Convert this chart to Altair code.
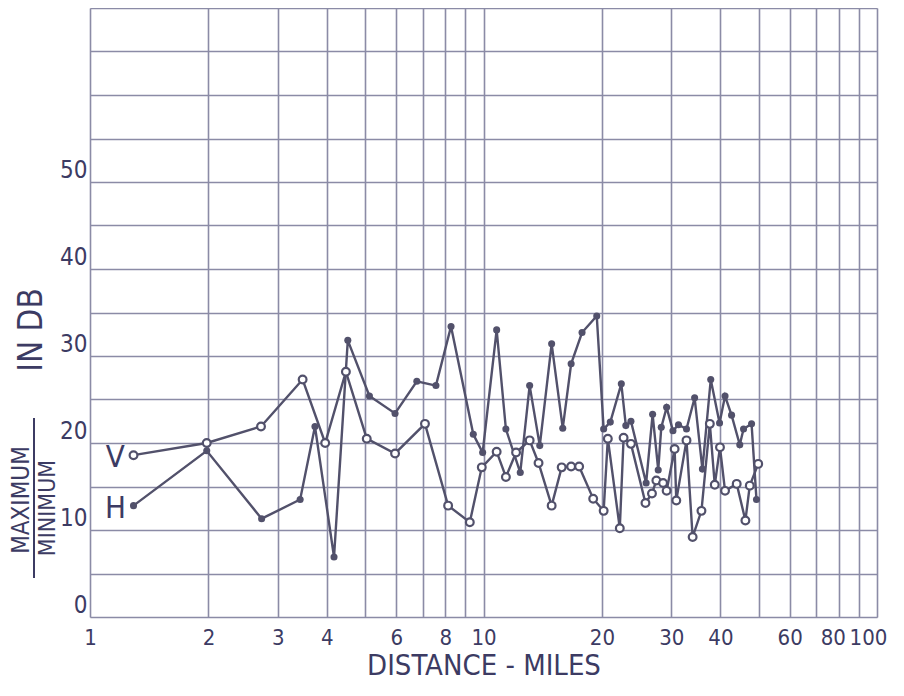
import altair as alt
import pandas as pd

# H series (filled dots)
h_dist = [1.29, 1.98, 2.73, 3.42, 3.73, 4.17, 4.52, 5.13, 5.96, 6.77, 7.57, 8.27, 9.42, 9.95,
          10.8, 11.4, 12.4, 13.1, 13.9, 14.9, 15.9, 16.7, 17.8, 19.4, 20.2, 21.0, 22.4, 23.0,
          23.7, 25.9, 26.9, 27.8, 28.3, 29.2, 30.3, 31.3, 32.8, 34.4, 36.0, 37.8, 39.8, 41.1,
          42.7, 44.8, 45.8, 48.0, 49.4]
h_db = [12.8, 19.1, 11.3, 13.5, 21.9, 6.9, 31.8, 25.4, 23.4, 27.1, 26.6, 33.4, 21.0, 18.9,
        33.0, 21.6, 16.6, 26.6, 19.7, 31.4, 21.7, 29.1, 32.7, 34.6, 21.6, 22.4, 26.8, 22.0,
        22.5, 15.4, 23.3, 16.9, 21.8, 24.1, 21.4, 22.1, 21.6, 25.2, 17.0, 27.3, 22.3, 25.4,
        23.2, 19.8, 21.6, 22.2, 13.5]

# V series (open circles)
v_dist = [1.29, 1.98, 2.72, 3.47, 3.96, 4.47, 5.05, 5.96, 7.1, 8.13, 9.23, 9.9, 10.8, 11.4,
          12.1, 13.1, 13.8, 14.9, 15.8, 16.7, 17.5, 19.0, 20.2, 20.7, 22.2, 22.7, 23.7, 25.8,
          26.8, 27.5, 28.6, 29.2, 30.6, 30.9, 32.8, 34.0, 35.8, 37.6, 38.7, 39.9, 41.1, 44.0,
          46.3, 47.5, 49.9]
v_db = [18.6, 20.0, 21.9, 27.3, 20.0, 28.2, 20.5, 18.8, 22.2, 12.8, 10.9, 17.2, 19.0, 16.1,
        18.9, 20.3, 17.7, 12.8, 17.2, 17.3, 17.3, 13.6, 12.2, 20.5, 10.2, 20.6, 19.9, 13.1,
        14.2, 15.7, 15.4, 14.5, 19.3, 13.4, 20.3, 9.2, 12.2, 22.2, 15.2, 19.5, 14.5, 15.3,
        11.1, 15.1, 17.6]

x_grid = [1, 2, 3, 4, 5, 6, 7, 8, 9, 10, 20, 30, 40, 50, 60, 70, 80, 90, 100]
x_hidden = [5, 7, 9, 50, 70, 90]
y_grid = [0, 5, 10, 15, 20, 25, 30, 35, 40, 45, 50, 55, 60, 65, 70]

GRID = "#8b8ba6"
INK = "#52516b"
TXT = "#3c3b63"
FONT = "DejaVu Sans"
NARROW = "DejaVu Sans Condensed, Liberation Sans Narrow, DejaVu Sans"

df = pd.concat([
    pd.DataFrame({"dist": h_dist, "db": h_db, "series": "H", "order": range(len(h_dist))}),
    pd.DataFrame({"dist": v_dist, "db": v_db, "series": "V", "order": range(len(v_dist))}),
])

xs = alt.X("dist:Q", scale=alt.Scale(type="log", domain=[1, 100]),
           axis=alt.Axis(values=x_grid, format="d", title="DISTANCE - MILES",
                         labelExpr="indexof(" + str(x_hidden) + ", datum.value) >= 0 ? '' : datum.label",
                         labelOffset={"condition": [
                             {"test": "datum.value == 100", "value": -9},
                             {"test": "datum.value == 80", "value": -6}],
                                      "value": 0},
                         grid=True, gridColor=GRID, gridWidth=1.6, gridOpacity=1,
                         domain=False, ticks=False, labelPadding=10, labelFontSize=22,
                         labelColor=TXT, labelFont=NARROW, titleFont=NARROW, titleFontSize=29,
                         titleFontWeight="normal", titleColor=TXT, titlePadding=3,
                         labelFlush=False, labelOverlap=False))
ys = alt.Y("db:Q", scale=alt.Scale(domain=[0, 70], nice=False),
           axis=alt.Axis(values=y_grid, title=None,
                         labelExpr="(datum.value % 10 == 0 && datum.value <= 50) ? datum.label : ''",
                         grid=True, gridColor=GRID, gridWidth=1.6, gridOpacity=1,
                         domain=False, ticks=False, labelPadding=3, labelFontSize=24,
                         labelColor=TXT, labelFont=NARROW, labelBaseline="bottom",
                         labelOverlap=False, labelFlush=False))

base = alt.Chart(df)
lines = base.mark_line(color=INK, strokeWidth=2.4).encode(
    x=xs, y=ys, detail="series:N", order="order:Q")
h_pts = base.transform_filter("datum.series == 'H'").mark_point(
    filled=True, color=INK, size=50, opacity=1).encode(x="dist:Q", y="db:Q")
v_pts = base.transform_filter("datum.series == 'V'").mark_point(
    filled=True, fill="white", stroke=INK, strokeWidth=2.2, size=60, opacity=1).encode(x="dist:Q", y="db:Q")

labels = pd.DataFrame({"t": ["V", "H"], "x": [1.16, 1.16], "y": [18.6, 12.8]})
lab = alt.Chart(labels).mark_text(font=NARROW, fontSize=31, color=TXT, dy=3).encode(
    x="x:Q", y="y:Q", text="t:N")

t_indb = alt.Chart(pd.DataFrame({"t": ["IN  DB"]})).mark_text(
    font=NARROW, fontSize=33, color=TXT, angle=270).encode(
    x=alt.value(-58), y=alt.value(322), text="t:N")
t_max = alt.Chart(pd.DataFrame({"t": ["MAXIMUM"]})).mark_text(
    font=NARROW, fontSize=24, color=TXT, angle=270).encode(
    x=alt.value(-68), y=alt.value(492), text="t:N")
t_min = alt.Chart(pd.DataFrame({"t": ["MINIMUM"]})).mark_text(
    font=NARROW, fontSize=23, color=TXT, angle=270).encode(
    x=alt.value(-42), y=alt.value(500), text="t:N")
frac = alt.Chart(pd.DataFrame({"a": [0]})).mark_rule(color=TXT, strokeWidth=2).encode(
    x=alt.value(-56), y=alt.value(410), y2=alt.value(570))

chart = alt.layer(lines, v_pts, h_pts, lab, t_indb, t_max, t_min, frac).properties(
    width=787, height=609,
    padding={"left": 82, "top": 0, "right": 17, "bottom": 71},
    autosize=alt.AutoSizeParams(type="none"),
).configure_view(stroke=GRID, strokeWidth=1.6).configure(background="white")

chart.save("out.html", embed_options={"renderer": "svg", "actions": False})
